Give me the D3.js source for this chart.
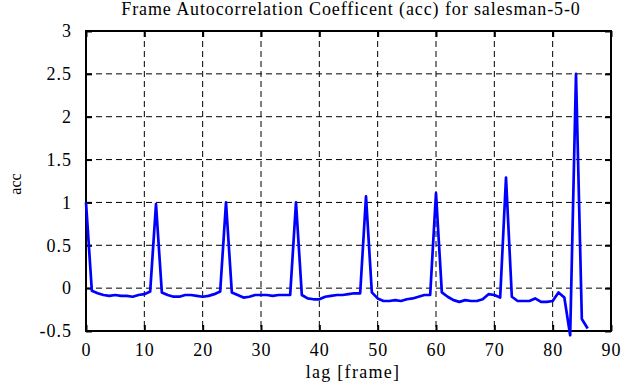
<!DOCTYPE html>
<html>
<head>
<meta charset="utf-8">
<script src="https://cdn.jsdelivr.net/npm/d3@7"></script>
<style>
  body { margin: 0; background: #fff; }
  svg { font-family: "Liberation Serif", "DejaVu Serif", serif; }
</style>
</head>
<body>
<svg class="chart" width="635" height="387"></svg>
<script>
// acc values, lag 0..86
var lags = d3.range(0, 87);
var acc = [
  1.00, -0.03, -0.06, -0.08, -0.09, -0.08, -0.09, -0.09, -0.10, -0.08,
  -0.07, -0.04, 0.98, -0.05, -0.08, -0.10, -0.10, -0.08, -0.08, -0.09,
  -0.10, -0.09, -0.07, -0.04, 1.00, -0.05, -0.08, -0.11, -0.10, -0.08,
  -0.08, -0.08, -0.09, -0.08, -0.08, -0.08, 1.00, -0.08, -0.12, -0.13,
  -0.13, -0.10, -0.09, -0.08, -0.08, -0.07, -0.06, -0.06, 1.07, -0.05,
  -0.12, -0.15, -0.15, -0.14, -0.15, -0.13, -0.12, -0.10, -0.08, -0.08,
  1.11, -0.05, -0.10, -0.14, -0.16, -0.14, -0.15, -0.15, -0.13, -0.07,
  -0.08, -0.11, 1.29, -0.10, -0.15, -0.15, -0.15, -0.12, -0.16, -0.16,
  -0.15, -0.05, -0.11, -0.55, 2.50, -0.36, -0.47
];
var xTicks = [0, 10, 20, 30, 40, 50, 60, 70, 80, 90];
var yTicks = [-0.5, 0, 0.5, 1, 1.5, 2, 2.5, 3];

var pLeft = 86, pRight = 611, pTop = 31, pBottom = 331;

var chart = d3.select("svg.chart"),
    xScale = d3.scaleLinear().domain([0, 90]).range([pLeft, pRight]),
    yScale = d3.scaleLinear().domain([-0.5, 3]).range([pBottom, pTop]);

// grid
chart.append("g").selectAll("line").data(xTicks.slice(1, -1)).enter().append("line")
  .attr("x1", function(d) { return xScale(d); }).attr("x2", function(d) { return xScale(d); })
  .attr("y1", pTop).attr("y2", pBottom)
  .attr("stroke", "#000").attr("stroke-width", 1).attr("stroke-dasharray", "6,4");
chart.append("g").selectAll("line").data(yTicks.slice(1, -1)).enter().append("line")
  .attr("y1", function(d) { return yScale(d); }).attr("y2", function(d) { return yScale(d); })
  .attr("x1", pLeft).attr("x2", pRight)
  .attr("stroke", "#000").attr("stroke-width", 1).attr("stroke-dasharray", "6,4");

// axes, ticks pointing inward
var fmtY = function(d) { return String(d); };
chart.append("g").attr("id", "xAxisG").attr("transform", "translate(0," + pBottom + ")")
  .call(d3.axisBottom(xScale).tickValues(xTicks).tickSizeInner(-6).tickSizeOuter(0).tickPadding(12));
chart.append("g").attr("id", "xAxisTop").attr("transform", "translate(0," + pTop + ")")
  .call(d3.axisTop(xScale).tickValues(xTicks).tickSizeInner(-6).tickSizeOuter(0).tickFormat(""));
chart.append("g").attr("id", "yAxisG").attr("transform", "translate(" + pLeft + ",0)")
  .call(d3.axisLeft(yScale).tickValues(yTicks).tickFormat(fmtY).tickSizeInner(-6).tickSizeOuter(0).tickPadding(14));
chart.append("g").attr("id", "yAxisRight").attr("transform", "translate(" + pRight + ",0)")
  .call(d3.axisRight(yScale).tickValues(yTicks).tickSizeInner(-6).tickSizeOuter(0).tickFormat(""));

chart.selectAll(".domain").remove();
chart.selectAll(".tick line").attr("stroke", "#000").attr("stroke-width", 2);
chart.selectAll(".tick text").attr("font-size", 18).attr("fill", "#000")
  .attr("letter-spacing", 1)
  .attr("font-family", "Liberation Serif, serif");

// frame
chart.append("rect")
  .attr("x", pLeft).attr("y", pTop).attr("width", pRight - pLeft).attr("height", pBottom - pTop)
  .attr("fill", "none").attr("stroke", "#000").attr("stroke-width", 2);

// the acc curve
var line = d3.line()
  .x(function(d, i) { return xScale(lags[i]); })
  .y(function(d) { return yScale(d); });
chart.append("path")
  .attr("d", line(acc))
  .attr("fill", "none").attr("stroke", "#0000ff").attr("stroke-width", 2.7)
  .attr("stroke-linejoin", "round");

// labels
chart.append("text").attr("x", 351).attr("y", 15)
  .attr("text-anchor", "middle").attr("font-size", 18).attr("letter-spacing", 0.9)
  .text("Frame Autocorrelation Coefficent (acc) for salesman-5-0");
chart.append("text").attr("x", 353).attr("y", 378)
  .attr("text-anchor", "middle").attr("font-size", 18).attr("letter-spacing", 1.3)
  .text("lag [frame]");
chart.append("text")
  .attr("transform", "translate(21," + 184 + ") rotate(-90)")
  .attr("text-anchor", "middle").attr("font-size", 16)
  .text("acc");
</script>
</body>
</html>
